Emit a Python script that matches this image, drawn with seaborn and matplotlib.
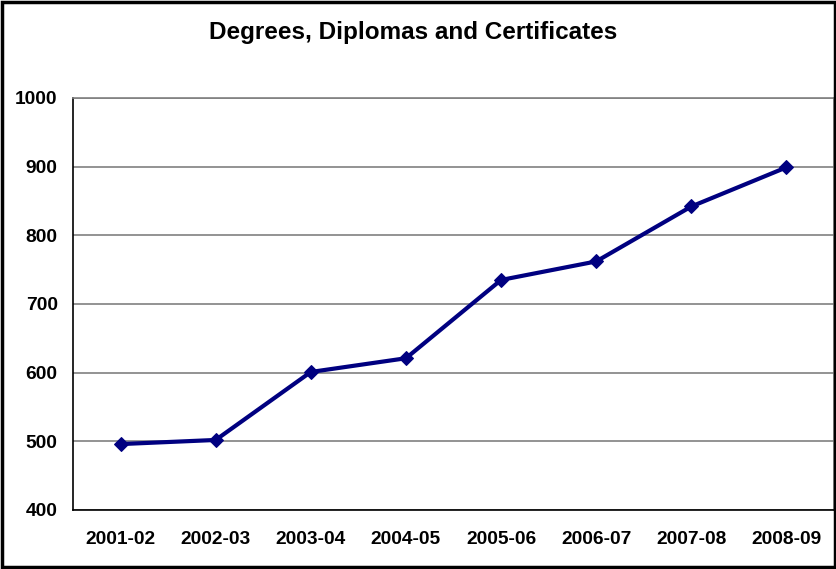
import numpy as np
import matplotlib
matplotlib.use("Agg")
import matplotlib.pyplot as plt
import pandas as pd
import seaborn as sns

# dados do grafico
anos = ["2001-02", "2002-03", "2003-04", "2004-05", "2005-06", "2006-07", "2007-08", "2008-09"]
valores = [496, 502, 601, 621, 735, 762, 842, 899]

df = pd.DataFrame({"ano": anos, "valor": valores})

sns.set_style("white")
plt.rcParams["font.family"] = ["Liberation Sans", "DejaVu Sans"]
plt.rcParams["text.color"] = "black"
plt.rcParams["xtick.color"] = "black"
plt.rcParams["ytick.color"] = "black"

fig = plt.figure(figsize=(8.37, 5.69), dpi=100)
ax = fig.add_axes([73 / 837, 1 - 510 / 569, 761 / 837, 412 / 569])

sns.lineplot(data=df, x="ano", y="valor", ax=ax, color="#000080", linewidth=3,
             marker="D", markersize=7, markeredgecolor="#000080", sort=False)

ax.set_ylim(400, 1000)
ax.set_yticks(np.arange(400, 1001, 100))
ax.set_xlim(-0.5, len(anos) - 0.5)
ax.yaxis.grid(True, color="#808080", linewidth=1.2)
ax.set_axisbelow(True)

# ticks entre as categorias
ax.set_xticks(np.arange(-0.5, len(anos), 1.0), minor=True)
ax.tick_params(axis="x", which="major", length=0, pad=15, labelcolor="black")
ax.tick_params(axis="x", which="minor", length=5, width=1, color="black", direction="out")
ax.tick_params(axis="y", length=5, width=1, color="black", direction="out", pad=6, labelcolor="black")
for lbl in ax.get_xticklabels() + ax.get_yticklabels():
    lbl.set_fontweight("bold")
    lbl.set_fontsize(13.8)

ax.set_xlabel("")
ax.set_ylabel("")

for lado in ["top", "right"]:
    ax.spines[lado].set_color("#808080")
    ax.spines[lado].set_linewidth(1.2)
for lado in ["left", "bottom"]:
    ax.spines[lado].set_color("black")
    ax.spines[lado].set_linewidth(1.2)

fig.text(413 / 837, 1 - 32 / 569, "Degrees, Diplomas and Certificates",
         ha="center", va="center", fontsize=17.5, fontweight="bold", color="black")

# borda da figura
borda = plt.Rectangle((0.002, 0.003), 0.996, 0.994, transform=fig.transFigure,
                      fill=False, edgecolor="black", linewidth=2.5)
fig.patches.append(borda)

fig.savefig("out.png", dpi=100)
